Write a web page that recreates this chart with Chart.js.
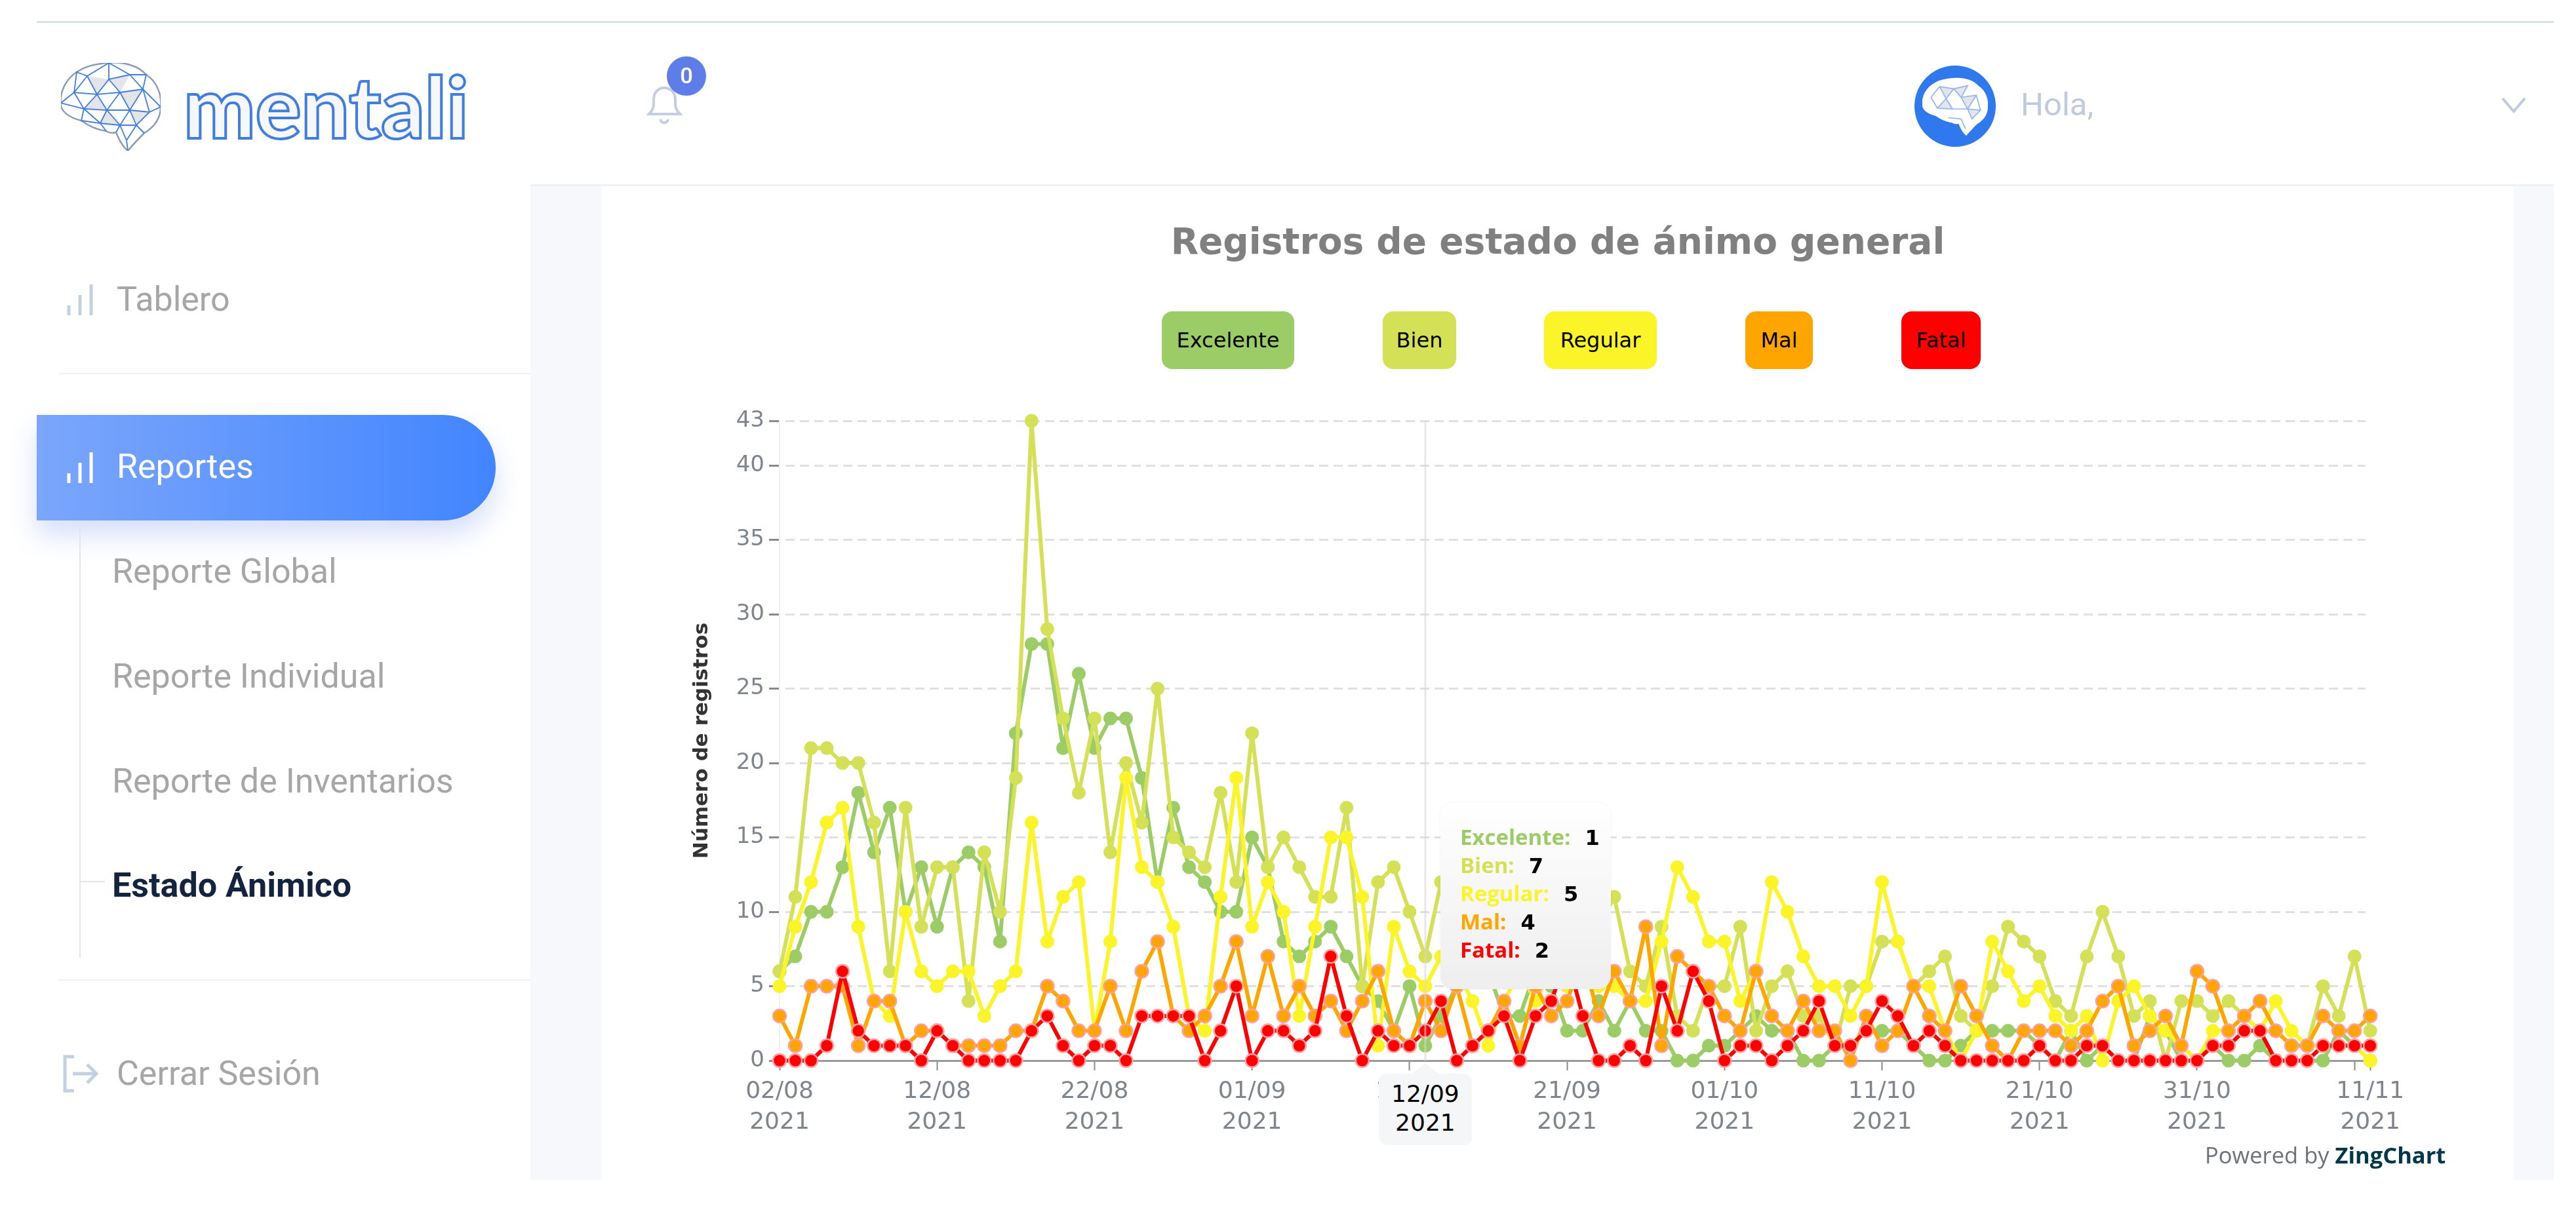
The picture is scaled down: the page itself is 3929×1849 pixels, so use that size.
<!DOCTYPE html>
<html>
<head>
<meta charset="UTF-8">
<title>Estado Ánimico</title>
<script src="https://cdn.jsdelivr.net/npm/chart.js@4/dist/chart.umd.min.js"></script>
<style>
    html, body { margin: 0; padding: 0; background: #fff; }
    body { width: 3929px; height: 1849px; position: relative; overflow: hidden; font-family: Roboto, sans-serif; }
    .abs { position: absolute; }
    .nav { position: absolute; font-size: 52px; line-height: 60px; color: #a6a6a6; white-space: nowrap; }
    .legendBox { position: absolute; top: 475px; height: 88px; line-height: 88px; border-radius: 16px; text-align: center;
        font-family: "DejaVu Sans"; font-size: 32px; color: #000; }
    #chartWrap { position: absolute; left: 918px; top: 283px; width: 2916px; height: 1517px; }
    #chartTitle { position: absolute; left: 918px; top: 333px; width: 2916px; text-align: center; font-family: "DejaVu Sans";
        font-weight: 700; font-size: 55px; line-height: 70px; color: #808080; white-space: nowrap; }
    #tip { position: absolute; width: 260px; height: 285px; border-radius: 20px; box-sizing: border-box;
        background: linear-gradient(#ffffff, #eeeeef); box-shadow: 0 0 4px rgba(0,0,0,.06); }
    #tip div { position: absolute; left: 30px; white-space: nowrap; font-family: "Open Sans"; font-weight: 700; font-size: 33px; line-height: 43px; }
    #tip b { color: #000; margin-left: 22px; font-family: "DejaVu Sans"; font-size: 32px; }
    #dateTag { position: absolute; width: 142px; height: 109px; background: #f5f6f8; border-radius: 12px; text-align: center;
        font-family: "DejaVu Sans"; font-size: 36px; line-height: 44px; color: #000; padding-top: 9px; box-sizing: border-box; }
    #dateArrow { position: absolute; width: 0; height: 0; border-left: 22px solid transparent; border-right: 22px solid transparent; border-bottom: 17px solid #f5f6f8; }
</style>
</head>
<body>

<!-- fondo -->
<div class="abs" style="left:56px;top:32px;width:3839px;height:3px;background:#d8e6df"></div>
<div class="abs" style="left:809px;top:283px;width:3086px;height:1517px;background:#f6f8fc"></div>
<div class="abs" style="left:918px;top:283px;width:2916px;height:1517px;background:#fff"></div>
<div class="abs" style="left:809px;top:281px;width:3086px;height:3px;background:#eef2f7"></div>

<!-- logo -->
<svg class="abs" style="left:93px;top:96px" width="152" height="134" viewBox="0 0 152 134">
    <path d="M73,0 C95,-2 118,4 130,18 C146,28 154,48 152,67 C152,85 142,98 127,107 C120,114 112,122 102,134 C94,128 88,116 84,106 C76,108 72,106 69,104 C55,102 42,96 31,88 C14,84 -2,74 0,61 C-2,44 8,24 24,14 C38,4 55,1 73,0Z" fill="#fff" stroke="#8c9bb4" stroke-width="2.5"/>
    <path d="M40,20 L73,25 L55,48 Z M73,25 L105,18 L90,45 Z M55,48 L35,70 L70,72 Z M105,72 L135,75 L115,95 Z M90,45 L125,40 L105,72 Z M60,92 L90,95 L70,72 Z" fill="#e4e5e8"/>
    <path d="M24,14 L40,20 L73,0 L73,25 L105,18 L130,18 L125,40 L105,18 M40,20 L20,45 L0,61 L35,70 L20,45 L55,48 L40,20 M73,25 L55,48 L90,45 L73,25 M90,45 L125,40 L152,67 L135,75 L125,40 L105,72 L90,45 L70,72 L55,48 L35,70 L70,72 L60,92 L35,70 L31,88 L60,92 L69,104 M70,72 L105,72 L90,95 L70,72 M60,92 L90,95 L84,106 M105,72 L135,75 L115,95 L105,72 M90,95 L115,95 L127,107 M115,95 L100,118 L90,95 M100,118 L102,134 M135,75 L152,67 M40,20 L24,14 L20,45 M73,0 L105,18 M55,48 L73,25" fill="none" stroke="#3f7de0" stroke-width="1.8"/>
</svg>
<div class="abs" style="left:280px;top:86px;font-family:Lato;font-weight:900;font-size:130px;line-height:150px;color:#f6f7fa;-webkit-text-stroke:4px #3f7de0;white-space:nowrap">mentali</div>

<!-- menu lateral -->
<div class="abs" style="left:90px;top:569px;width:719px;height:2px;background:#f0f1f3"></div>
<svg class="abs" style="left:100px;top:432px" width="44" height="50"><path d="M5,49 V34 M22,49 V18 M39,49 V2" stroke="#c4cfe0" stroke-width="5" fill="none"/></svg>
<div class="nav" style="left:178px;top:427px">Tablero</div>

<div class="abs" style="left:56px;top:633px;width:700px;height:161px;border-radius:0 80px 80px 0;background:linear-gradient(90deg,#7ba6fb,#4285ff);box-shadow:0 22px 40px rgba(70,110,230,.22)"></div>
<svg class="abs" style="left:100px;top:688px" width="44" height="50"><path d="M5,49 V34 M22,49 V18 M39,49 V2" stroke="#fff" stroke-width="5" fill="none"/></svg>
<div class="nav" style="left:178px;top:682px;color:#fff">Reportes</div>

<div class="abs" style="left:121px;top:794px;width:2px;height:667px;background:#e4e6ea"></div>
<div class="abs" style="left:122px;top:1344px;width:38px;height:2px;background:#e4e6ea"></div>
<div class="nav" style="left:171px;top:842px">Reporte Global</div>
<div class="nav" style="left:171px;top:1002px">Reporte Individual</div>
<div class="nav" style="left:171px;top:1162px">Reporte de Inventarios</div>
<div class="nav" style="left:171px;top:1321px;color:#14243f;font-weight:700">Estado Ánimico</div>

<div class="abs" style="left:90px;top:1494px;width:719px;height:2px;background:#f0f1f3"></div>
<svg class="abs" style="left:93px;top:1608px" width="58" height="60"><path d="M20,4 H6 V56 H20 M18,30 H54 M40,16 L54,30 L40,44" stroke="#c4cfe0" stroke-width="5" fill="none"/></svg>
<div class="nav" style="left:178px;top:1608px">Cerrar Sesión</div>

<!-- cabecera -->
<svg class="abs" style="left:984px;top:130px" width="60" height="62"><path d="M6,44 C14,36 13,30 13,22 C13,11 20,4 29,4 C39,4 46,11 46,22 C46,30 45,36 53,44 Z" stroke="#c3cfe0" stroke-width="4" fill="none"/><path d="M23,52 C25,59 33,59 35,52" stroke="#c3cfe0" stroke-width="4" fill="none"/></svg>
<div class="abs" style="left:1017px;top:86px;width:60px;height:60px;border-radius:50%;background:#5f7de8;color:#fff;text-align:center;line-height:58px;font-size:34px;font-family:Roboto;font-weight:500">0</div>

<div class="abs" style="left:2920px;top:100px;width:124px;height:124px;border-radius:50%;background:#2f78ee"></div>
<svg class="abs" style="left:2932px;top:118px" width="100" height="90" viewBox="0 0 152 134">
    <path d="M73,0 C95,-2 118,4 130,18 C146,28 154,48 152,67 C152,85 142,98 127,107 C120,114 112,122 102,134 C94,128 88,116 84,106 C76,108 72,106 69,104 C55,102 42,96 31,88 C14,84 -2,74 0,61 C-2,44 8,24 24,14 C38,4 55,1 73,0Z" fill="#fff"/>
    <path d="M40,20 L73,25 L55,48 Z M73,25 L105,18 L90,45 Z M55,48 L35,70 L70,72 Z M105,72 L135,75 L115,95 Z M90,45 L125,40 L105,72 Z" fill="#e4e5e8"/>
    <path d="M40,20 L73,25 L55,48 L40,20 M73,25 L105,18 L90,45 L73,25 M55,48 L35,70 L70,72 L55,48 M105,72 L135,75 L115,95 L105,72 M90,45 L125,40 L105,72 L90,45 M60,92 L90,95 L100,118 M70,72 L105,72 M20,45 L40,20 M20,45 L35,70 M125,40 L135,75" fill="none" stroke="#8fb4f0" stroke-width="2.5"/>
</svg>
<div class="abs" style="left:3082px;top:130px;font-size:49px;line-height:60px;color:#bfcbdd;font-family:Roboto">Hola,</div>
<svg class="abs" style="left:3814px;top:146px" width="40" height="28"><path d="M3,4 L20,24 L37,4" stroke="#bfcbdd" stroke-width="4" fill="none"/></svg>

<!-- grafica -->
<div id="chartWrap"><canvas id="moodChart" width="2916" height="1517"></canvas></div>

<div id="chartTitle">Registros de estado de ánimo general</div>

<div class="legendBox" style="left:1772px;width:202px;background:#9ccc65">Excelente</div>
<div class="legendBox" style="left:2109px;width:112px;background:#d4e157">Bien</div>
<div class="legendBox" style="left:2355px;width:172px;background:#fbf428">Regular</div>
<div class="legendBox" style="left:2662px;width:103px;background:#ffa500">Mal</div>
<div class="legendBox" style="left:2900px;width:121px;background:#ff0000">Fatal</div>

<div id="dateArrow"></div>
<div id="dateTag"></div>
<div id="tip"></div>

<div class="abs" style="left:3363px;top:1740px;font-family:'Open Sans';font-size:34.5px;line-height:44px;color:#6b7177;white-space:nowrap">Powered by <span style="color:#003849;font-weight:700">ZingChart</span></div>

<script>
    var seriesNames = ['Excelente', 'Bien', 'Regular', 'Mal', 'Fatal'];
    var seriesColors = ['#9ccc65', '#d4e157', '#fbf428', '#ffa500', '#ff0000'];

    // registros por dia, 02/08/2021 a 11/11/2021 (102 dias)
    var excelente = [
        6, 7, 10, 10, 13, 18, 14, 17, 10, 13,
        9, 13, 14, 13, 8, 22, 28, 28, 21, 26,
        21, 23, 23, 19, 12, 17, 13, 12, 10, 10,
        15, 13, 8, 7, 8, 9, 7, 5, 4, 2,
        5, 1, 3, 5, 6, 6, 3, 3, 6, 5,
        2, 2, 4, 2, 4, 2, 2, 0, 0, 1,
        1, 2, 3, 2, 2, 0, 0, 1, 1, 2,
        2, 2, 1, 0, 0, 1, 2, 2, 2, 2,
        1, 0, 2, 0, 1, 0, 0, 3, 2, 0,
        0, 1, 0, 0, 1, 0, 0, 0, 0, 2,
        1, 0
    ];
    var bien = [
        6, 11, 21, 21, 20, 20, 16, 6, 17, 9,
        13, 13, 4, 14, 10, 19, 43, 29, 23, 18,
        23, 14, 20, 16, 25, 15, 14, 13, 18, 12,
        22, 13, 15, 13, 11, 11, 17, 5, 12, 13,
        10, 7, 12, 10, 9, 8, 6, 7, 5, 7,
        9, 10, 9, 11, 6, 5, 9, 3, 2, 5,
        5, 9, 2, 5, 6, 3, 3, 1, 5, 5,
        8, 8, 5, 6, 7, 3, 2, 5, 9, 8,
        7, 4, 3, 7, 10, 7, 3, 4, 0, 4,
        4, 3, 4, 3, 2, 2, 1, 1, 5, 3,
        7, 2
    ];
    var regular = [
        5, 9, 12, 16, 17, 9, 4, 3, 10, 6,
        5, 6, 6, 3, 5, 6, 16, 8, 11, 12,
        2, 8, 19, 13, 12, 9, 3, 2, 11, 19,
        9, 12, 10, 3, 9, 15, 15, 11, 1, 9,
        6, 5, 7, 6, 4, 1, 4, 6, 4, 6,
        5, 6, 5, 5, 4, 4, 8, 13, 11, 8,
        8, 4, 6, 12, 10, 7, 5, 5, 3, 5,
        12, 8, 5, 5, 2, 0, 2, 8, 6, 4,
        5, 3, 2, 3, 0, 4, 5, 3, 2, 1,
        0, 2, 2, 3, 2, 4, 2, 1, 1, 1,
        1, 0
    ];
    var mal = [
        3, 1, 5, 5, 5, 1, 4, 4, 1, 2,
        2, 1, 1, 1, 1, 2, 2, 5, 4, 2,
        2, 5, 2, 6, 8, 3, 2, 3, 5, 8,
        3, 7, 3, 5, 3, 4, 2, 4, 6, 2,
        1, 4, 2, 5, 1, 2, 4, 1, 5, 3,
        4, 7, 3, 6, 4, 9, 1, 7, 6, 5,
        3, 2, 6, 3, 2, 4, 2, 2, 0, 3,
        1, 2, 5, 3, 2, 5, 3, 1, 0, 2,
        2, 2, 1, 2, 4, 5, 1, 2, 3, 1,
        6, 5, 2, 3, 4, 2, 1, 1, 3, 2,
        2, 3
    ];
    var fatal = [
        0, 0, 0, 1, 6, 2, 1, 1, 1, 0,
        2, 1, 0, 0, 0, 0, 2, 3, 1, 0,
        1, 1, 0, 3, 3, 3, 3, 0, 2, 5,
        0, 2, 2, 1, 2, 7, 3, 0, 2, 1,
        1, 2, 4, 0, 1, 2, 3, 0, 3, 4,
        7, 3, 0, 0, 1, 0, 5, 2, 6, 4,
        0, 1, 1, 0, 1, 2, 4, 1, 1, 2,
        4, 3, 1, 2, 1, 0, 0, 0, 0, 0,
        1, 0, 0, 1, 1, 0, 0, 0, 0, 0,
        0, 1, 1, 2, 2, 0, 0, 0, 1, 1,
        1, 1
    ];
    var seriesValues = [excelente, bien, regular, mal, fatal];

    var yTicks = [0, 5, 10, 15, 20, 25, 30, 35, 40, 43];
    var xTickDays = [0, 10, 20, 30, 40, 50, 60, 70, 80, 90, 100, 101];
    var xTickLabels = ['02/08', '12/08', '22/08', '01/09', '11/09', '21/09', '01/10', '11/10', '21/10', '31/10', '', '11/11'];
    var yearLabel = '2021';

    // dia marcado en la captura
    var hoverDay = 41;
    var hoverLabel = '12/09';

    var datasets = seriesNames.map(function (name, s) {
        var hasRing = s >= 3;
        return {
            label: name,
            data: seriesValues[s].map(function (v, i) { return { x: i, y: v }; }),
            order: seriesNames.length - s,
            clip: false,
            tension: 0,
            borderColor: seriesColors[s],
            borderWidth: 6,
            borderJoinStyle: 'round',
            pointRadius: hasRing ? 10 : 10.5,
            pointBackgroundColor: seriesColors[s],
            pointBorderColor: hasRing ? '#ff9f9f' : seriesColors[s],
            pointBorderWidth: hasRing ? 2.5 : 0
        };
    });

    // linea vertical del dia marcado
    var crosshair = {
        id: 'crosshair',
        afterDatasetsDraw: function (chart) {
            var ctx = chart.ctx;
            var x = chart.scales.x.getPixelForValue(hoverDay);
            ctx.save();
            ctx.strokeStyle = 'rgba(215,215,220,0.6)';
            ctx.lineWidth = 3;
            ctx.beginPath();
            ctx.moveTo(x, chart.chartArea.top);
            ctx.lineTo(x, chart.chartArea.bottom);
            ctx.stroke();
            ctx.restore();
        }
    };

    var moodChart = new Chart(document.getElementById('moodChart').getContext('2d'), {
        type: 'line',
        data: { datasets: datasets },
        plugins: [crosshair],
        options: {
            responsive: false,
            animation: false,
            devicePixelRatio: 1,
            events: [],
            layout: { padding: { left: 136, right: 226, top: 359, bottom: 0 } },
            plugins: {
                legend: { display: false },
                tooltip: { enabled: false }
            },
            scales: {
                x: {
                    type: 'linear',
                    min: 0,
                    max: 100.7,
                    afterBuildTicks: function (axis) {
                        axis.ticks = xTickDays.map(function (d) { return { value: d }; });
                    },
                    afterFit: function (axis) { axis.height = 182; },
                    border: { color: '#9a9a9a', width: 3 },
                    grid: { drawOnChartArea: false, tickColor: '#8a8a8a', tickLength: 15, tickWidth: 2 },
                    ticks: {
                        autoSkip: false,
                        maxRotation: 0,
                        minRotation: 0,
                        padding: 9,
                        color: '#7f858d',
                        font: { family: 'DejaVu Sans', size: 36, lineHeight: 1.3 },
                        callback: function (value) {
                            var label = xTickLabels[xTickDays.indexOf(value)];
                            return label ? [label, yearLabel] : '';
                        }
                    }
                },
                y: {
                    min: 0,
                    max: 43,
                    afterBuildTicks: function (axis) {
                        axis.ticks = yTicks.map(function (v) { return { value: v }; });
                    },
                    afterFit: function (axis) { axis.width = 135; },
                    border: { color: '#f1f1f3', width: 2, dash: [14, 8], dashOffset: 14 },
                    grid: { color: '#e0e0e0', lineWidth: 3, tickColor: '#8a8a8a', tickLength: 16, tickWidth: 3 },
                    title: {
                        display: true,
                        text: 'Número de registros',
                        color: '#333',
                        padding: 0,
                        font: { family: 'DejaVu Sans', size: 31, weight: 'bold', lineHeight: 1.1 }
                    },
                    ticks: {
                        padding: 7,
                        color: '#7f858d',
                        font: { family: 'DejaVu Sans', size: 34 },
                        callback: function (value) { return value; }
                    }
                }
            }
        }
    });

    // etiquetas sobre la grafica, ubicadas con las escalas
    var wrapLeft = 918, wrapTop = 283;
    var hoverX = wrapLeft + moodChart.scales.x.getPixelForValue(hoverDay);

    var tip = document.getElementById('tip');
    tip.style.left = (hoverX + 23) + 'px';
    tip.style.top = '1224px';
    seriesNames.forEach(function (name, s) {
        var row = document.createElement('div');
        row.style.top = (31 + s * 43) + 'px';
        row.style.color = seriesColors[s];
        row.textContent = name + ':';
        var val = document.createElement('b');
        val.textContent = seriesValues[s][hoverDay];
        row.appendChild(val);
        tip.appendChild(row);
    });

    var dateTag = document.getElementById('dateTag');
    dateTag.style.left = (hoverX - 71) + 'px';
    dateTag.style.top = (wrapTop + moodChart.scales.y.getPixelForValue(0) + 20) + 'px';
    dateTag.innerHTML = hoverLabel + '<br>' + yearLabel;
    var dateArrow = document.getElementById('dateArrow');
    dateArrow.style.left = (hoverX - 22) + 'px';
    dateArrow.style.top = (wrapTop + moodChart.scales.y.getPixelForValue(0) + 4) + 'px';
</script>
</body>
</html>
